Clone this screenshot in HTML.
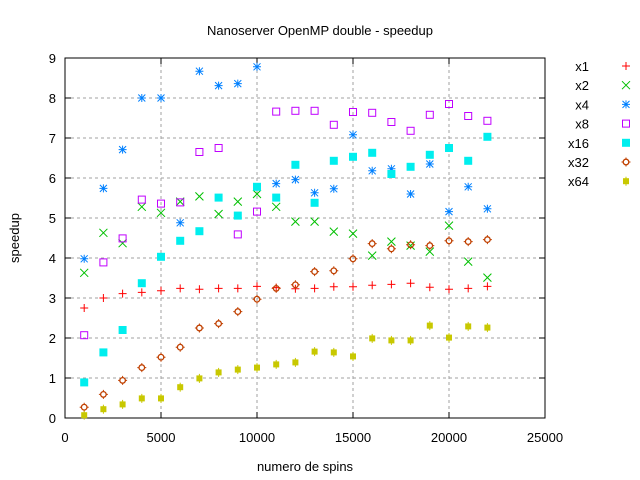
<!DOCTYPE html>
<html><head><meta charset="utf-8"><style>
body{margin:0;background:#fff}
svg{display:block;font-family:"Liberation Sans",sans-serif}
</style></head><body>
<svg id="chart" width="640" height="480" xmlns="http://www.w3.org/2000/svg">
<rect width="640" height="480" fill="#fff"/>
<text x="320" y="35" text-anchor="middle" font-size="13">Nanoserver OpenMP double - speedup</text>
<text x="305" y="471" text-anchor="middle" font-size="13">numero de spins</text>
<text x="19" y="238" text-anchor="middle" font-size="13" transform="rotate(-90 19 238)">speedup</text>
<g id="grid"></g>
<g id="axes"></g>
<g id="marks"></g>
<g id="legend"></g>
</svg>
<script>
const xs = [1000,2000,3000,4000,5000,6000,7000,8000,9000,10000,11000,12000,13000,14000,15000,16000,17000,18000,19000,20000,21000,22000];
const x1 = [2.75,3.0,3.11,3.14,3.18,3.24,3.22,3.24,3.24,3.29,3.26,3.23,3.24,3.28,3.28,3.32,3.34,3.37,3.27,3.22,3.24,3.29];
const x2 = [3.63,4.63,4.37,5.28,5.13,5.41,5.54,5.1,5.41,5.6,5.28,4.91,4.91,4.66,4.61,4.06,4.41,4.31,4.16,4.81,3.91,3.51];
const x4 = [3.98,5.74,6.71,8.0,8.0,4.88,8.67,8.31,8.36,8.78,5.86,5.96,5.63,5.73,7.08,6.18,6.23,5.6,6.35,5.16,5.78,5.23];
const x8 = [2.07,3.89,4.49,5.46,5.36,5.39,6.65,6.75,4.59,5.16,7.66,7.68,7.68,7.33,7.65,7.63,7.4,7.18,7.58,7.85,7.55,7.43];
const x16 = [0.89,1.64,2.2,3.37,4.03,4.43,4.67,5.51,5.06,5.78,5.51,6.33,5.38,6.43,6.53,6.63,6.1,6.28,6.58,6.75,6.43,7.03];
const x32 = [0.27,0.59,0.94,1.26,1.52,1.77,2.25,2.36,2.66,2.97,3.24,3.33,3.66,3.68,3.98,4.36,4.23,4.33,4.31,4.43,4.41,4.46];
const x64 = [0.07,0.22,0.34,0.49,0.49,0.77,0.99,1.14,1.21,1.26,1.34,1.39,1.66,1.64,1.54,1.99,1.94,1.94,2.31,2.01,2.29,2.26];
const xTicks = [0,5000,10000,15000,20000,25000];
const yTicks = [0,1,2,3,4,5,6,7,8,9];
const seriesNames = ["x1","x2","x4","x8","x16","x32","x64"];

const L=65,R=545,T=58,B=418;
const sx=v=>L+(v-0)/25000*(R-L);
const sy=v=>B-(v-0)/9*(B-T);
const NS="http://www.w3.org/2000/svg";
function mk(tag,attrs,parent){const e=document.createElementNS(NS,tag);for(const k in attrs)e.setAttribute(k,attrs[k]);parent.appendChild(e);return e;}
const grid=document.getElementById('grid'),axes=document.getElementById('axes'),marks=document.getElementById('marks'),legend=document.getElementById('legend');

yTicks.forEach(t=>{
  const y=sy(t);
  if(t>0&&t<9){const g=mk('line',{x1:L,x2:R,y1:y,y2:y,stroke:'#a0a0a0','stroke-dasharray':'3,3'},grid);
  
  }
  mk('line',{x1:L,x2:L+6,y1:y,y2:y,stroke:'#000'},axes);
  mk('line',{x1:R,x2:R-6,y1:y,y2:y,stroke:'#000'},axes);
  const tx=mk('text',{x:L-9,y:y+5,'text-anchor':'end','font-size':'13'},axes);
  tx.textContent=t;
  
  
});
xTicks.forEach(t=>{
  const x=sx(t);
  if(t>0&&t<25000){const g=mk('line',{x1:x,x2:x,y1:T,y2:B,stroke:'#a0a0a0','stroke-dasharray':'3,3'},grid);
  
  }
  mk('line',{x1:x,x2:x,y1:B,y2:B-6,stroke:'#000'},axes);
  mk('line',{x1:x,x2:x,y1:T,y2:T+6,stroke:'#000'},axes);
  const tx=mk('text',{x:x,y:B+24,'text-anchor':'middle','font-size':'13'},axes);
  tx.textContent=t;
  
  
});
const frame=mk('rect',{x:L,y:T,width:R-L,height:B-T,fill:'none',stroke:'#000'},axes);



const colors=['#ff0000','#00c000','#0080ff','#c000ff','#00eeee','#c04000','#c8c800'];
function sym(i,x,y,p){
  const c=colors[i];
  if(i===0){mk('path',{d:`M${x-4},${y}h8M${x},${y-4}v8`,stroke:c,fill:'none'},p);}
  else if(i===1){mk('path',{d:`M${x-4},${y-4}l8,8M${x-4},${y+4}l8,-8`,stroke:c,fill:'none'},p);}
  else if(i===2){mk('path',{d:`M${x-4},${y}h8M${x},${y-4}v8M${x-3.5},${y-3.5}l7,7M${x-3.5},${y+3.5}l7,-7`,stroke:c,fill:'none'},p);}
  else if(i===3){mk('rect',{x:x-3.5,y:y-3.5,width:7,height:7,stroke:c,fill:'none'},p);}
  else if(i===4){mk('rect',{x:x-4,y:y-4,width:8,height:8,fill:c},p);}
  else if(i===5){mk('circle',{cx:x,cy:y,r:2.8,stroke:c,fill:'none','stroke-width':1.3},p);mk('path',{d:`M${x},${y-4.5}v2M${x},${y+2.5}v2M${x-4.5},${y}h2M${x+2.5},${y}h2`,stroke:c},p);}
  else {mk('rect',{x:x-3,y:y-3,width:6,height:6,fill:c},p);mk('path',{d:`M${x},${y-4.5}v9`,stroke:c},p);}
}
const data=[x1,x2,x4,x8,x16,x32,x64];
data.forEach((arr,i)=>{
  const g=mk('g',{},marks);
  
  
  arr.forEach((v,j)=>{
    const p=mk('g',{},g);
    
    
    sym(i,sx(xs[j]),sy(v),p);
  });
  const le=mk('g',{},legend);
  
  
  const ly=66+i*19.2;
  const t=mk('text',{x:589,y:ly+5,'text-anchor':'end','font-size':'13'},le);
  t.textContent=seriesNames[i];
  sym(i,626,ly,le);
});
</script>
</body></html>
